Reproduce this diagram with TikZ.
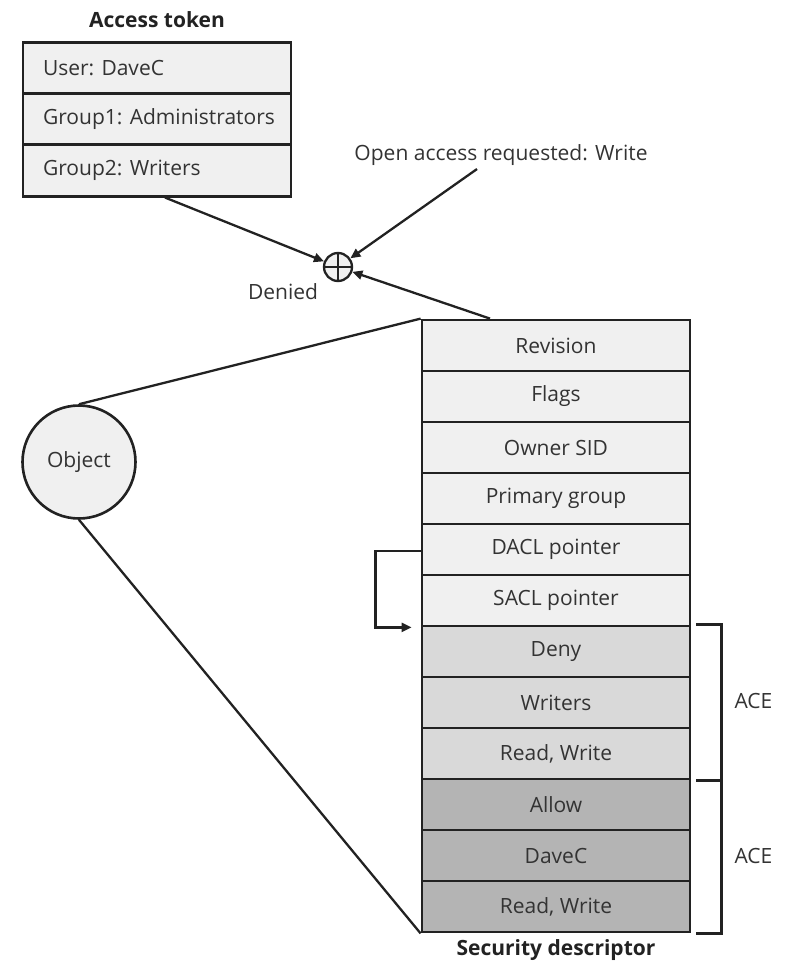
\documentclass[tikz,border=0pt]{standalone}
\usepackage{fontspec}
\setmainfont{Open Sans}
\usetikzlibrary{arrows.meta}
\definecolor{cellA}{HTML}{F0F0F0}
\definecolor{cellB}{HTML}{D9D9D9}
\definecolor{cellC}{HTML}{B4B4B4}
\definecolor{ink}{HTML}{222222}
\definecolor{txt}{HTML}{333333}
\begin{document}
\begin{tikzpicture}[x=1pt,y=-1pt,
  base/.style={font=\fontsize{21}{24}\selectfont, text=txt},
  cell/.style={base, draw=ink, line width=2.8pt, minimum width=268pt,
    minimum height=51pt, inner sep=0pt, anchor=center},
  tokcell/.style={cell, fill=cellA, minimum height=51.3pt, inner xsep=20pt},
  title/.style={font=\fontsize{21}{24}\selectfont\bfseries, text=ink},
  conn/.style={draw=ink, line width=2.3pt, -{Triangle[length=10pt,width=9pt]}},
  thin/.style={draw=ink, line width=2.3pt}
]
\useasboundingbox (0,0) rectangle (787,968);

% access token
\node[title] (tt) at (157,20) {Access token};
\node[tokcell] (t1) at (157,68)    {\makebox[228pt][l]{User: DaveC}};
\node[tokcell] (t2) at (157,119.5) {\makebox[228pt][l]{Group1: Administrators}};
\node[tokcell] (t3) at (157,170.5) {\makebox[228pt][l]{Group2: Writers}};

% access check
\node[base] (oar) at (501,155) {Open access requested: Write};
\node[circle, draw=ink, fill=cellA, line width=2.3pt, minimum size=28pt, inner sep=0pt] (xp) at (338,267) {};
\draw[ink, line width=2.3pt] (xp.north) -- (xp.south) (xp.west) -- (xp.east);
\node[base] (den) at (283,292) {Denied};

% security descriptor
\foreach \i/\t/\c in {1/Revision/cellA, 2/Flags/cellA, 3/Owner SID/cellA,
    4/Primary group/cellA, 5/DACL pointer/cellA, 6/SACL pointer/cellA,
    7/Deny/cellB, 8/Writers/cellB, 9/{Read, Write}/cellB,
    10/Allow/cellC, 11/DaveC/cellC, 12/{Read, Write}/cellC}
  \node[cell, fill=\c] (r\i) at (556,{294.5+51*\i}) {\t};
\node[title] (st) at (556,950) {Security descriptor};

% object
\node[base, circle, draw=ink, fill=cellA, line width=2.6pt, minimum size=113pt, inner sep=0pt] (obj) at (79,462) {Object};
\draw[thin] (obj.north) -- (r1.north west);
\draw[thin] (obj.south) -- (r12.south west);

% arrows into the check
\draw[conn] ([xshift=8pt]t3.south) -- (xp);
\draw[conn] ([xshift=-24pt]oar.south) -- (xp);
\draw[conn] ([xshift=-66pt]r1.north) -- (xp);

% DACL pointer loop
\draw[conn] ([yshift=-1.5pt]r5.west) -- ++(-45,0) |- ([xshift=-9pt]r6.south west);

% ACE brackets
\draw[thin] ([xshift=5pt]r7.north east) -- ++(25,0) |- ([xshift=5pt]r9.south east);
\draw[thin] ([xshift=30pt]r10.north east) |- ([xshift=5pt]r12.south east);
\node[base, anchor=west] (ace1) at (731,701) {ACE};
\node[base, anchor=west] (ace2) at (731,856) {ACE};
\end{tikzpicture}
\end{document}
